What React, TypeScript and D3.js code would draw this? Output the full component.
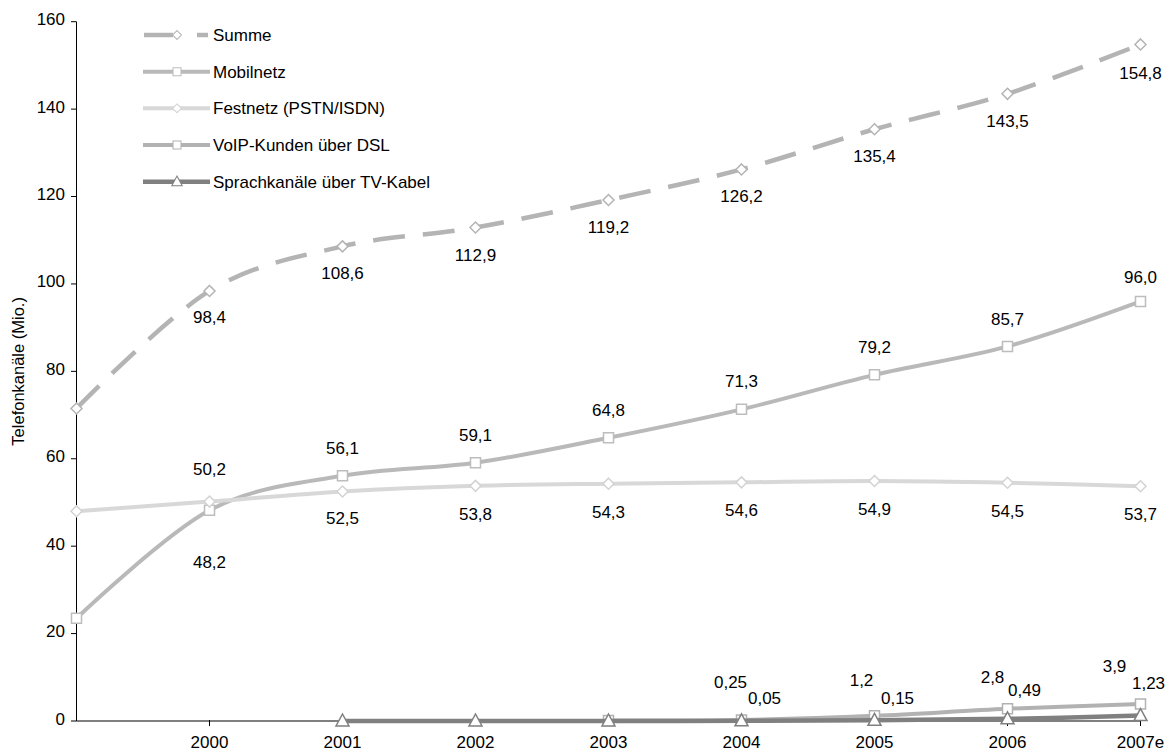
import React from "react";
import * as d3 from "d3";

const categories = ["1999", "2000", "2001", "2002", "2003", "2004", "2005", "2006", "2007e"];
const tickLabels = ["", "2000", "2001", "2002", "2003", "2004", "2005", "2006", "2007e"];
const yTicks = [0, 20, 40, 60, 80, 100, 120, 140, 160];

const summe = [71.5, 98.4, 108.6, 112.9, 119.2, 126.2, 135.4, 143.5, 154.8];
const mobilnetz = [23.5, 48.2, 56.1, 59.1, 64.8, 71.3, 79.2, 85.7, 96.0];
const festnetz = [48.0, 50.2, 52.5, 53.8, 54.3, 54.6, 54.9, 54.5, 53.7];
const voip: (number | null)[] = [null, null, null, null, 0.1, 0.25, 1.2, 2.8, 3.9];
const tvKabel: (number | null)[] = [null, null, 0, 0, 0, 0.05, 0.15, 0.49, 1.23];

const seriesNames = [
  "Summe",
  "Mobilnetz",
  "Festnetz (PSTN/ISDN)",
  "VoIP-Kunden über DSL",
  "Sprachkanäle über TV-Kabel",
];

// which points carry a data label
const labelledSumme = [1, 2, 3, 4, 5, 6, 7, 8];
const labelledMobil = [1, 2, 3, 4, 5, 6, 7, 8];
const labelledFest = [1, 2, 3, 4, 5, 6, 7, 8];
const labelledVoip = [5, 6, 7, 8];
const labelledTv = [5, 6, 7, 8];

// label placement (layout, not data)
const offSumme: [number, number][] = [[0, 0], [0, 26], [0, 27], [0, 27], [0, 27], [0, 27], [0, 27], [0, 27], [0, 29]];
const offMobil: [number, number][] = [[0, 0], [0, 52], [0, -28], [0, -28], [0, -28], [0, -28], [0, -28], [0, -27], [0, -24]];
const offFest: [number, number][] = [[0, 0], [0, -33], [0, 26], [0, 28], [0, 28], [0, 28], [0, 28], [0, 28], [0, 28]];
const offVoip: [number, number][] = [[0, 0], [0, 0], [0, 0], [0, 0], [0, 0], [-11, -38], [-13, -36], [-15, -32], [-26, -38]];
const offTv: [number, number][] = [[0, 0], [0, 0], [0, 0], [0, 0], [0, 0], [23, -23], [23, -22], [17, -29], [8, -33]];

const W = 1166;
const H = 753;
const FONT = "'Liberation Sans', Arial, Helvetica, sans-serif";

const x = d3.scaleLinear().domain([0, categories.length - 1]).range([76.5, 1140.5]);
const y = d3.scaleLinear().domain([0, 160]).range([721, 21.7]);

const fmt1 = (v: number) => v.toFixed(1).replace(".", ",");
const fmtRaw = (v: number) => String(v).replace(".", ",");

type Marker = "diamond" | "square" | "triangle";

const series = [
  { name: seriesNames[0], values: summe as (number | null)[], color: "#B4B4B4", mstroke: "#B4B4B4", width: 4.5, dash: "32 18", marker: "diamond" as Marker, labels: labelledSumme, off: offSumme, fmt: fmt1 },
  { name: seriesNames[1], values: mobilnetz as (number | null)[], color: "#B9B9B9", mstroke: "#BDBDBD", width: 4, dash: null, marker: "square" as Marker, labels: labelledMobil, off: offMobil, fmt: fmt1 },
  { name: seriesNames[2], values: festnetz as (number | null)[], color: "#D8D8D8", mstroke: "#D3D3D3", width: 4, dash: null, marker: "diamond" as Marker, labels: labelledFest, off: offFest, fmt: fmt1 },
  { name: seriesNames[3], values: voip, color: "#B2B2B2", mstroke: "#B2B2B2", width: 4, dash: null, marker: "square" as Marker, labels: labelledVoip, off: offVoip, fmt: fmtRaw },
  { name: seriesNames[4], values: tvKabel, color: "#808080", mstroke: "#808080", width: 4.5, dash: null, marker: "triangle" as Marker, labels: labelledTv, off: offTv, fmt: fmtRaw },
];

function markerPath(type: Marker, cx: number, cy: number): string {
  if (type === "diamond") {
    const r = 5.5;
    return `M${cx},${cy - r}L${cx + r},${cy}L${cx},${cy + r}L${cx - r},${cy}Z`;
  }
  if (type === "square") {
    const r = 5;
    return `M${cx - r},${cy - r}H${cx + r}V${cy + r}H${cx - r}Z`;
  }
  const w = 6.5;
  return `M${cx},${cy - 7}L${cx + w},${cy + 5}L${cx - w},${cy + 5}Z`;
}

export default function App() {
  const lineGen = d3
    .line<number | null>()
    .defined((d) => d !== null)
    .x((_, i) => x(i))
    .y((d) => y(d as number))
    .curve(d3.curveCatmullRom.alpha(0));

  const legendRows = [35, 71.7, 108.3, 145, 181.7];

  return (
    <svg
      width={W}
      height={H}
      viewBox={`0 0 ${W} ${H}`}
      style={{ position: "absolute", left: 0, top: 0, background: "#fff" }}
      fontFamily={FONT}
    >
      <rect x={0} y={0} width={W} height={H} fill="#fff" />

      {/* x axis line */}
      <line x1={x(0)} x2={x(categories.length - 1)} y1={y(0)} y2={y(0)} stroke="#808080" strokeWidth={2} />
      {categories.map((c, i) =>
        i === 0 ? null : (
          <line key={"xt" + c} x1={x(i)} x2={x(i)} y1={y(0) - 1} y2={y(0) + 5} stroke="#000" strokeWidth={1} />
        )
      )}
      {tickLabels.map((t, i) =>
        t ? (
          <text key={"xl" + i} x={x(i)} y={748} textAnchor="middle" fontSize={17} fill="#000">
            {t}
          </text>
        ) : null
      )}

      {/* y axis */}
      <line x1={76.5} x2={76.5} y1={y(160)} y2={y(0)} stroke="#000" strokeWidth={1} />
      {yTicks.map((t) => (
        <g key={"yt" + t}>
          <line x1={71} x2={76.5} y1={y(t)} y2={y(t)} stroke="#000" strokeWidth={1} />
          <text x={65} y={y(t) + 3.5} textAnchor="end" fontSize={17} fill="#000">
            {t}
          </text>
        </g>
      ))}
      <text
        transform={`translate(24,${(y(0) + y(160)) / 2}) rotate(-90)`}
        textAnchor="middle"
        fontSize={16.5}
        fill="#000"
      >
        Telefonkanäle (Mio.)
      </text>

      {/* series */}
      {series.map((s) => (
        <g key={s.name}>
          <path
            d={lineGen(s.values) || ""}
            fill="none"
            stroke={s.color}
            strokeWidth={s.width}
            strokeDasharray={s.dash || undefined}
            strokeLinejoin="round"
          />
          {s.values.map((v, i) =>
            v === null ? null : (
              <path key={i} d={markerPath(s.marker, x(i), y(v))} fill="#fff" stroke={s.mstroke} strokeWidth={1.5} />
            )
          )}
        </g>
      ))}

      {/* data labels */}
      {series.map((s) =>
        s.labels.map((i) => {
          const v = s.values[i] as number;
          const [dx, dy] = s.off[i];
          return (
            <text
              key={s.name + "l" + i}
              x={x(i) + dx}
              y={y(v) + dy + 6}
              textAnchor="middle"
              fontSize={17}
              fill="#000"
            >
              {s.fmt(v)}
            </text>
          );
        })
      )}

      {/* legend */}
      {series.map((s, k) => {
        const ly = legendRows[k];
        return (
          <g key={"lg" + s.name}>
            {s.dash ? (
              <>
                <line x1={144} x2={173} y1={ly} y2={ly} stroke={s.color} strokeWidth={s.width} />
                <line x1={197} x2={208} y1={ly} y2={ly} stroke={s.color} strokeWidth={s.width} />
              </>
            ) : (
              <line x1={143} x2={210} y1={ly} y2={ly} stroke={s.color} strokeWidth={s.width} />
            )}
            <path d={markerPath(s.marker, 177, ly)} fill="#fff" stroke={s.mstroke} strokeWidth={1.3} transform={`translate(177,${ly}) scale(0.8) translate(-177,${-ly})`} />
            <text x={213} y={ly + 6} fontSize={17} fill="#000">
              {s.name}
            </text>
          </g>
        );
      })}
    </svg>
  );
}
